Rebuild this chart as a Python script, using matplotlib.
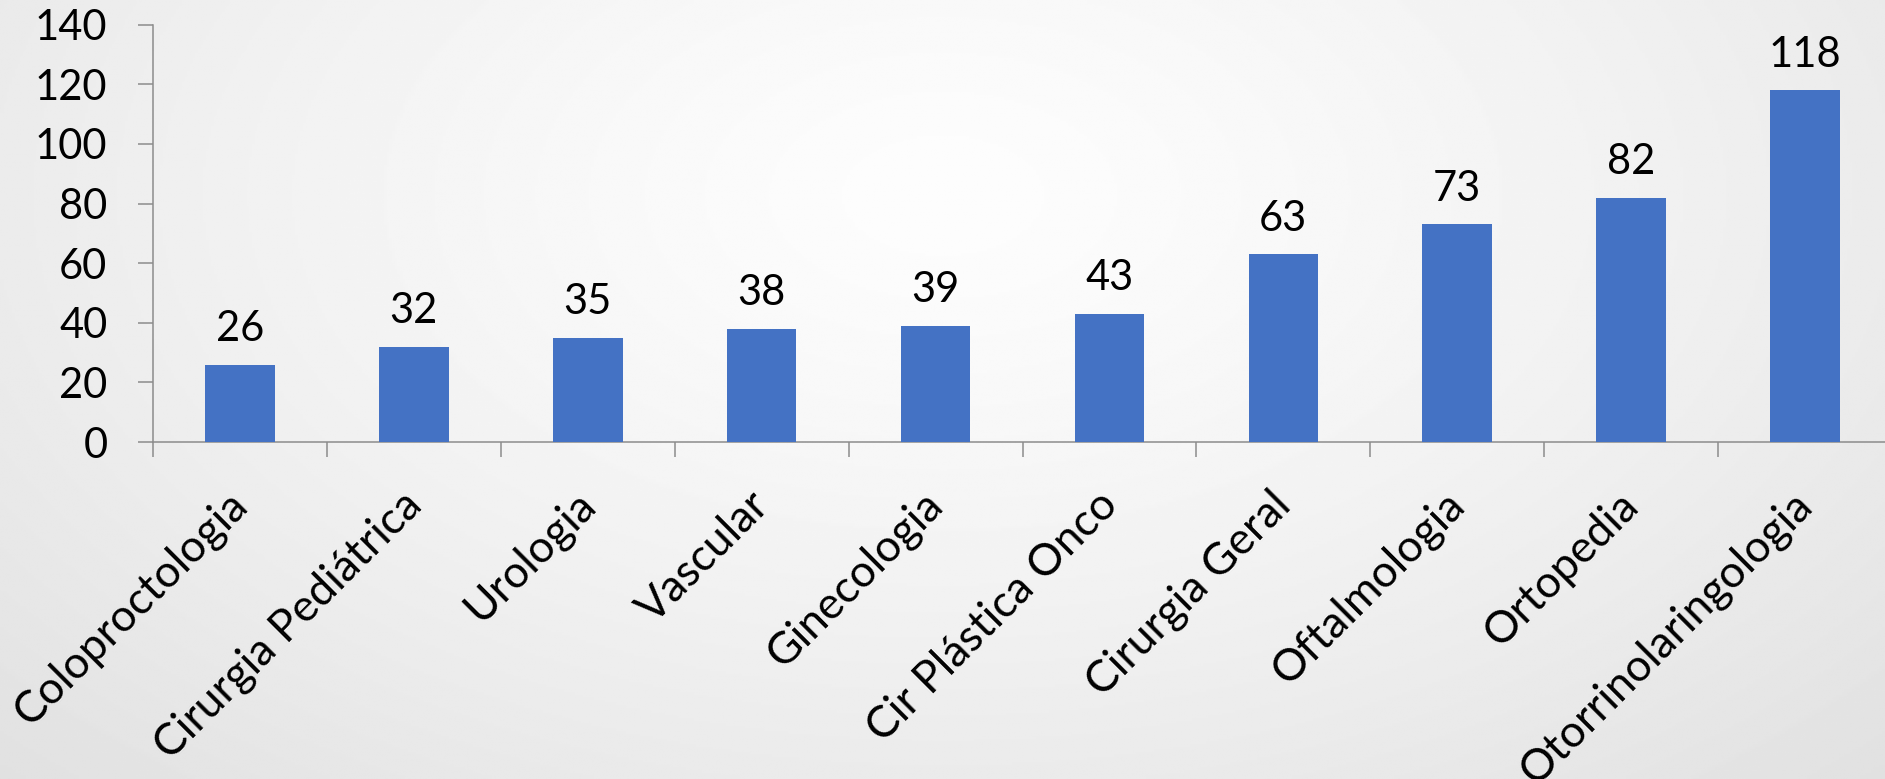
import numpy as np
import matplotlib
matplotlib.use("Agg")
import matplotlib.pyplot as plt
from matplotlib.transforms import ScaledTranslation

plt.rcParams['font.family'] = ['Lato', 'DejaVu Sans']

especialidades = ["Coloproctologia", "Cirurgia Pediátrica", "Urologia", "Vascular",
                  "Ginecologia", "Cir Plástica Onco", "Cirurgia Geral", "Oftalmologia",
                  "Ortopedia", "Otorrinolaringologia"]
valores = [26, 32, 35, 38, 39, 43, 63, 73, 82, 118]
y_ticks = [0, 20, 40, 60, 80, 100, 120, 140]

W, H, DPI = 1885, 779, 100
fig = plt.figure(figsize=(W / DPI, H / DPI), dpi=DPI)

# fundo com degradê radial claro
bg = fig.add_axes([0, 0, 1, 1], zorder=-1)
yy, xx = np.mgrid[0:1:300j, 0:1:700j]
r = np.sqrt(((xx - 0.5) / 0.55) ** 2 + ((yy - 0.25) / 0.8) ** 2)
grad = np.clip(253 - 20 * r ** 1.3, 0, 255) / 255.0
bg.imshow(grad, cmap="gray", vmin=0, vmax=1, aspect="auto", extent=[0, 1, 1, 0])
bg.set_axis_off()

ax = fig.add_axes([153 / W, 337 / H, (1892 - 153) / W, (442 - 24.7) / H])
ax.patch.set_alpha(0)

x = np.arange(len(valores))
bars = ax.bar(x, valores, width=0.4, color="#4472C4", zorder=3)
ax.bar_label(bars, labels=[str(v) for v in valores], padding=12, fontsize=30, color="black")

ax.set_xlim(-0.5, len(valores) - 0.5)
ax.set_ylim(0, 140)
ax.set_yticks(y_ticks)
ax.set_yticklabels([str(t) for t in y_ticks])

# ticks de categoria nas fronteiras
ax.set_xticks(np.arange(len(valores) + 1) - 0.5)
ax.set_xticklabels([])
ax.set_xticks(x, minor=True)
ax.set_xticklabels(especialidades, minor=True, rotation=45, ha="right", va="baseline",
                   rotation_mode="anchor", fontsize=32)
ax.tick_params(axis="x", which="minor", length=0, pad=47)
ax.tick_params(axis="x", which="major", length=10.8, width=1.1, color="#8c8c8c", direction="out")
ax.tick_params(axis="y", length=10.8, width=1.1, color="#8c8c8c", direction="out",
               labelsize=30, pad=22)

offset = ScaledTranslation(10 / DPI, 0, fig.dpi_scale_trans)
for lab in ax.get_xticklabels(minor=True):
    lab.set_transform(lab.get_transform() + offset)

for side in ["top", "right"]:
    ax.spines[side].set_visible(False)
for side in ["left", "bottom"]:
    ax.spines[side].set_color("#8c8c8c")
    ax.spines[side].set_linewidth(1.1)

fig.savefig("out.png", dpi=DPI)
